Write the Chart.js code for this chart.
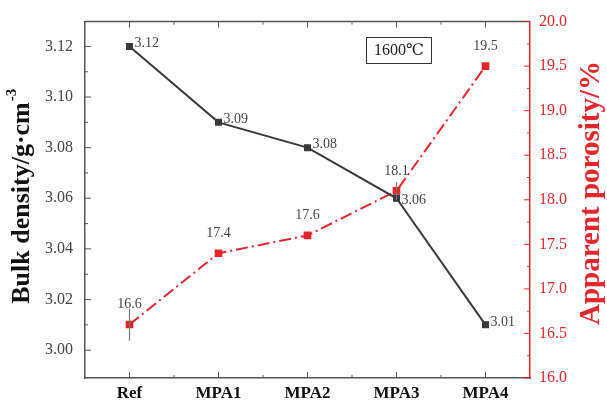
<!DOCTYPE html>
<html>
<head>
<meta charset="utf-8">
<script src="https://cdn.jsdelivr.net/npm/chart.js@4"></script>
<style>
  body { margin: 0; background: #fff; }
  #wrap { width: 607px; height: 404px; }
</style>
</head>
<body>
<div id="wrap"><canvas id="chart" width="607" height="404"></canvas></div>
<script>
/* Dane wykresu */
var samples = ['Ref', 'MPA1', 'MPA2', 'MPA3', 'MPA4'];
var bulkDensity = [3.12, 3.09, 3.08, 3.06, 3.01];
var porosity = [16.6, 17.4, 17.6, 18.1, 19.5];
var porosityErr = [0.18, 0, 0, 0.1, 0];
var densityTicks = [3.00, 3.02, 3.04, 3.06, 3.08, 3.10, 3.12];
var porosityTicks = [16.0, 16.5, 17.0, 17.5, 18.0, 18.5, 19.0, 19.5, 20.0];

var serif = '"Liberation Serif", "DejaVu Serif", serif';
var red = '#e3262b';
var dark = '#3a3a3a';

/* Podpisy osi, ticki wewnętrzne, etykiety punktów, ramka */
var extras = {
    id: 'extras',
    afterDatasetsDraw: function (chart) {
        var ctx = chart.ctx;
        var a = chart.chartArea;
        var x = chart.scales.x, y = chart.scales.y, y1 = chart.scales.y1;
        ctx.save();

        // słupki błędów porowatości
        ctx.strokeStyle = '#777';
        ctx.lineWidth = 1.2;
        porosity.forEach(function (v, i) {
            if (!porosityErr[i]) return;
            var px = x.getPixelForValue(i);
            ctx.beginPath();
            ctx.moveTo(px, y1.getPixelForValue(v - porosityErr[i]));
            ctx.lineTo(px, y1.getPixelForValue(v + porosityErr[i]));
            ctx.stroke();
        });

        // top border
        ctx.strokeStyle = '#555';
        ctx.lineWidth = 1.5;
        ctx.beginPath();
        ctx.moveTo(a.left, a.top);
        ctx.lineTo(a.right, a.top);
        ctx.stroke();

        // ticks góra/dół
        ctx.lineWidth = 1;
        for (var i = 0; i < samples.length; i++) {
            var px = x.getPixelForValue(i);
            ctx.beginPath();
            ctx.moveTo(px, a.top); ctx.lineTo(px, a.top + 6);
            ctx.moveTo(px, a.bottom); ctx.lineTo(px, a.bottom - 6);
            ctx.stroke();
            if (i < samples.length - 1) {
                var mx = x.getPixelForValue(i + 0.5);
                ctx.beginPath();
                ctx.moveTo(mx, a.top); ctx.lineTo(mx, a.top + 3);
                ctx.moveTo(mx, a.bottom); ctx.lineTo(mx, a.bottom - 3);
                ctx.stroke();
            }
        }
        // ticks lewa oś
        densityTicks.forEach(function (v) {
            var py = y.getPixelForValue(v);
            ctx.beginPath();
            ctx.moveTo(a.left, py); ctx.lineTo(a.left + 6, py);
            var my = y.getPixelForValue(v + 0.01);
            if (my > a.top) { ctx.moveTo(a.left, my); ctx.lineTo(a.left + 3, my); }
            ctx.stroke();
        });
        // ticks prawa oś
        ctx.strokeStyle = red;
        porosityTicks.forEach(function (v) {
            var py = y1.getPixelForValue(v);
            ctx.beginPath();
            ctx.moveTo(a.right, py); ctx.lineTo(a.right - 6, py);
            var my = y1.getPixelForValue(v + 0.25);
            if (my > a.top) { ctx.moveTo(a.right, my); ctx.lineTo(a.right - 3, my); }
            ctx.stroke();
        });

        // etykiety punktów
        ctx.fillStyle = '#444';
        ctx.font = '14px ' + serif;
        ctx.textBaseline = 'middle';
        ctx.textAlign = 'left';
        bulkDensity.forEach(function (v, i) {
            var px = x.getPixelForValue(i), py = y.getPixelForValue(v);
            var dy = (i === 3) ? 2 : -3;
            ctx.fillText(v.toFixed(2), px + 5, py + dy);
        });
        ctx.textAlign = 'center';
        porosity.forEach(function (v, i) {
            var px = x.getPixelForValue(i), py = y1.getPixelForValue(v);
            ctx.fillText(v.toFixed(1), px, py - 20);
        });

        // ramka 1600℃
        ctx.strokeStyle = '#333';
        ctx.lineWidth = 1;
        ctx.strokeRect(366.5, 37.5, 65, 26);
        ctx.fillStyle = '#222';
        ctx.font = '16px ' + serif;
        ctx.fillText('1600℃', 399, 51);

        // tytuły osi
        ctx.font = 'bold 26px ' + serif;
        ctx.fillStyle = '#111';
        ctx.save();
        ctx.translate(22, 196);
        ctx.rotate(-Math.PI / 2);
        ctx.fillText('Bulk density/g·cm', -7, 0);
        var w = ctx.measureText('Bulk density/g·cm').width;
        ctx.font = 'bold 15px ' + serif;
        ctx.textAlign = 'left';
        ctx.fillText('-3', -7 + w / 2 + 1, -10);
        ctx.restore();

        ctx.font = 'bold 29px ' + serif;
        ctx.fillStyle = red;
        ctx.textAlign = 'center';
        ctx.save();
        ctx.translate(592, 193);
        ctx.rotate(-Math.PI / 2);
        ctx.fillText('Apparent porosity/%', 0, 0);
        ctx.restore();

        ctx.restore();
    }
};

var chart = new Chart(document.getElementById('chart'), {
    type: 'line',
    data: {
        labels: samples,
        datasets: [
            {
                label: 'Bulk density',
                data: bulkDensity,
                yAxisID: 'y',
                borderColor: dark,
                backgroundColor: dark,
                borderWidth: 2,
                pointStyle: 'rect',
                pointRadius: 3.5,
                tension: 0
            },
            {
                label: 'Apparent porosity',
                data: porosity,
                yAxisID: 'y1',
                borderColor: red,
                backgroundColor: red,
                borderWidth: 2,
                borderDash: [12, 4, 2, 4],
                pointStyle: 'rect',
                pointRadius: 4,
                tension: 0
            }
        ]
    },
    options: {
        responsive: false,
        maintainAspectRatio: false,
        animation: false,
        layout: { padding: { top: 19, left: 0, right: 0, bottom: 0 } },
        plugins: {
            legend: { display: false },
            tooltip: { enabled: false }
        },
        scales: {
            x: {
                offset: true,
                grid: { display: false, drawTicks: false },
                border: { color: '#555', width: 1.5 },
                ticks: {
                    color: '#111',
                    font: { family: serif, size: 17, weight: 'bold' },
                    padding: 5
                },
                afterFit: function (s) { s.height = 26; }
            },
            y: {
                position: 'left',
                min: 2.989,
                max: 3.1298,
                grid: { display: false, drawTicks: false },
                border: { color: '#555', width: 1.5 },
                afterBuildTicks: function (s) {
                    s.ticks = densityTicks.map(function (v) { return { value: v }; });
                },
                ticks: {
                    color: '#444',
                    font: { family: serif, size: 16 },
                    padding: 12,
                    callback: function (v) { return v.toFixed(2); }
                },
                afterFit: function (s) { s.width = 85; }
            },
            y1: {
                position: 'right',
                min: 16,
                max: 20,
                grid: { display: false, drawTicks: false },
                border: { color: red, width: 1.5 },
                afterBuildTicks: function (s) {
                    s.ticks = porosityTicks.map(function (v) { return { value: v }; });
                },
                ticks: {
                    color: red,
                    font: { family: serif, size: 16 },
                    padding: 9,
                    callback: function (v) { return v.toFixed(1); }
                },
                afterFit: function (s) { s.width = 77; }
            }
        }
    },
    plugins: [extras]
});
</script>
</body>
</html>
